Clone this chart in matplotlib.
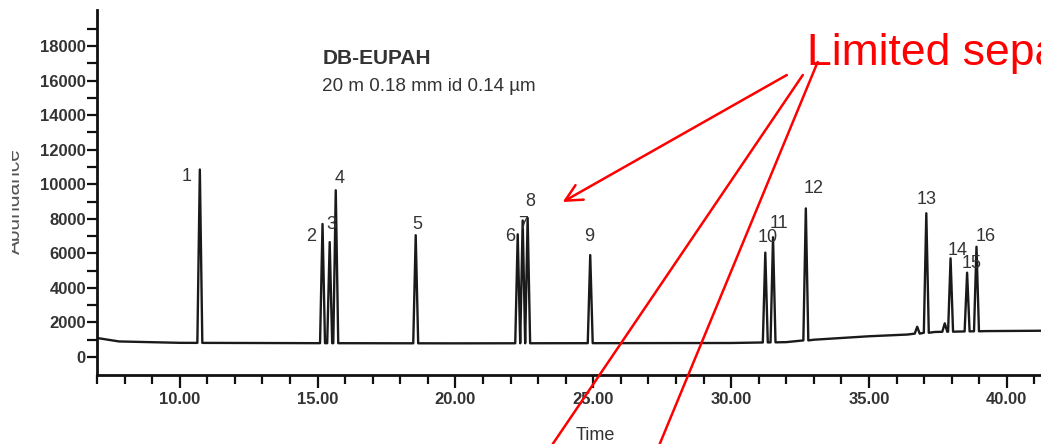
import numpy as np
import matplotlib
matplotlib.use("Agg")
import matplotlib.pyplot as plt
from matplotlib.ticker import MultipleLocator
from matplotlib.transforms import Bbox, TransformedBbox

# peaks (retention time in min, abundance)
peak_labels = ["1", "2", "3", "4", "5", "6", "7", "8", "9", "10", "11", "12", "13", "14", "15", "16"]
peak_times = [10.73, 15.18, 15.44, 15.66, 18.56, 22.26, 22.44, 22.62, 24.89,
              31.24, 31.52, 32.71, 37.08, 37.96, 38.56, 38.90]
peak_heights = [10850, 7700, 6650, 9650, 7050, 7100, 7900, 8050, 5900,
                6040, 6930, 8600, 8320, 5710, 4880, 6380]

# small unlabeled bumps near the end of the run
minor_times = [36.75, 37.75]
minor_heights = [1750, 1950]

# baseline drift
base_times = [7.0, 7.8, 10.0, 15.0, 20.0, 25.0, 30.0, 32.0, 33.0, 35.0, 36.4, 37.4, 39.3, 41.3]
base_values = [1100, 900, 820, 800, 790, 800, 810, 860, 1000, 1200, 1300, 1450, 1500, 1520]

# where the peak numbers sit (time, abundance)
label_t = [10.25, 14.78, 15.51, 15.80, 18.63, 21.98, 22.45, 22.72, 24.86,
           31.31, 31.72, 33.00, 37.10, 38.22, 38.73, 39.24]
label_a = [10420, 6960, 7640, 10320, 7640, 6960, 7640, 8990, 6960,
           6930, 7700, 9760, 9090, 6190, 5440, 6960]

sans = ["Liberation Sans Narrow", "Liberation Sans", "DejaVu Sans"]
grey = "#333333"
red = "#ff0000"

# build the trace as a polyline: baseline + narrow triangular peaks
half_w = 0.09
all_t = peak_times + minor_times
all_h = peak_heights + minor_heights
pts = []
for bt, bv in zip(base_times, base_values):
    if all(abs(bt - pt) > half_w * 1.5 for pt in all_t):
        pts.append((bt, bv))
for pt, ph in zip(all_t, all_h):
    b = float(np.interp(pt, base_times, base_values))
    pts.append((pt - half_w, b))
    pts.append((pt, ph))
    pts.append((pt + half_w, b))
pts.sort()
trace_t = [p[0] for p in pts]
trace_a = [p[1] for p in pts]

fig = plt.figure(figsize=(10.41, 4.44), dpi=100)
ax = fig.add_axes([97 / 1041, 69 / 444, 944 / 1041, 365 / 444])

ax.plot(trace_t, trace_a, color="#1a1a1a", lw=1.7)

ax.set_xlim(7.0, 41.24)
ax.set_ylim(-1042, 20084)

for s in ["top", "right"]:
    ax.spines[s].set_visible(False)
for s in ["left", "bottom"]:
    ax.spines[s].set_linewidth(2.0)
    ax.spines[s].set_color("#111111")

ax.xaxis.set_major_locator(MultipleLocator(5))
ax.xaxis.set_minor_locator(MultipleLocator(1))
ax.set_yticks(range(0, 18001, 2000))
ax.set_yticks(range(1000, 19001, 2000), minor=True)
ax.xaxis.set_major_formatter(lambda v, p: f"{v:.2f}")
ax.yaxis.set_major_formatter(lambda v, p: f"{int(v)}")

ax.tick_params(axis="x", which="major", direction="out", length=9, width=1.6, pad=3, colors="#111111")
ax.tick_params(axis="x", which="minor", direction="out", length=6.5, width=1.6, colors="#111111")
ax.tick_params(axis="y", which="both", direction="out", length=7, width=1.6, pad=1, colors="#111111")
for lab in ax.get_xticklabels() + ax.get_yticklabels():
    lab.set_family(sans)
    lab.set_fontsize(12)
    lab.set_fontweight("bold")
    lab.set_color(grey)

# peak numbers
for lab, lt, la in zip(peak_labels, label_t, label_a):
    ax.text(lt, la, lab, ha="center", va="center", fontsize=13, family=sans, color=grey)

# column description
ax.text(15.19, 17300, "DB-EUPAH", ha="left", va="center", fontsize=15,
        fontweight="bold", family=sans, color=grey)
ax.text(15.15, 15630, "20 m 0.18 mm id 0.14 µm", ha="left", va="center",
        fontsize=13.6, family=sans, color=grey)

fig.text(595 / 1041, 1 - 435 / 444, "Time", ha="center", va="center",
         fontsize=13, family=sans, color=grey)

# partly hidden y label
yl = fig.text(24 / 1041, 1 - 201 / 444, "Abundance", rotation=90, ha="right",
              va="center", fontsize=15, family=sans, color="#555555")
yl.set_clip_box(TransformedBbox(Bbox([[12 / 1041, 0], [20 / 1041, 1]]), fig.transFigure))
yl.set_clip_on(True)

# red annotation
ax.text(32.74, 16900, "Limited separation", ha="left", va="baseline",
        fontsize=32, family=["Liberation Sans", "DejaVu Sans"], color=red, clip_on=False)
ax.annotate("", xy=(23.89, 8971), xytext=(32.02, 16322),
            arrowprops=dict(arrowstyle="->", color=red, lw=1.8, mutation_scale=30,
                            shrinkA=0, shrinkB=0),
            annotation_clip=False)
ax.annotate("", xy=(23.53, -5036), xytext=(32.60, 16322),
            arrowprops=dict(arrowstyle="-", color=red, lw=1.8, shrinkA=0, shrinkB=0),
            annotation_clip=False)
ax.annotate("", xy=(27.41, -5036), xytext=(33.14, 17075),
            arrowprops=dict(arrowstyle="-", color=red, lw=1.8, shrinkA=0, shrinkB=0),
            annotation_clip=False)

fig.savefig("out.png", dpi=100)
